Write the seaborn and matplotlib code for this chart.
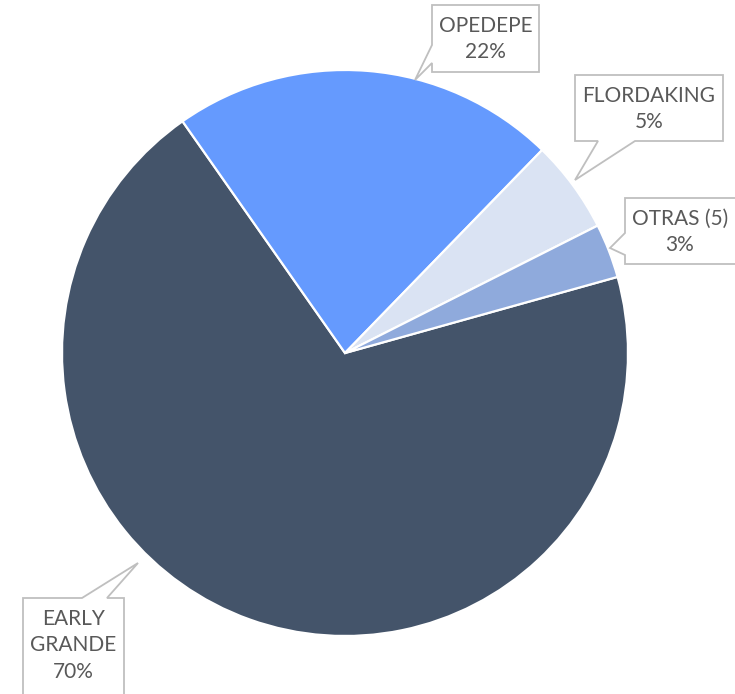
import matplotlib
matplotlib.use("Agg")
import matplotlib.pyplot as plt
import seaborn as sns
from matplotlib.patches import Polygon

sns.set_style("white")
plt.rcParams['font.family'] = ['Lato', 'DejaVu Sans']

# Data (shares)
varieties = ['EARLY GRANDE', 'OPEDEPE', 'FLORDAKING', 'OTRAS (5)']
shares = [69.6, 22.0, 5.3, 3.1]
colors = ['#44546A', '#659AFE', '#DAE3F3', '#8FAADC']
label_names = ['EARLY\nGRANDE', 'OPEDEPE', 'FLORDAKING', 'OTRAS (5)']

W, H = 735, 694
fig = plt.figure(figsize=(W / 100, H / 100), dpi=100)

# pie placed so centre ~ (345, 353) px, radius ~283 px
cx, cy, r = 345, 353, 283
ax = fig.add_axes([(cx - r) / W, (H - cy - r) / H, 2 * r / W, 2 * r / H])
ax.pie(shares, colors=colors, startangle=15.6, counterclock=False,
       wedgeprops=dict(edgecolor='white', linewidth=1.6))
ax.set_xlim(-1, 1)
ax.set_ylim(-1, 1)
ax.set_aspect('equal')
ax.axis('off')


def px(x, y):
    return (x / W, 1 - y / H)


def callout(box, side, a, b, tip):
    x0, y0, x1, y1 = box
    pts = [(x0, y0)]
    if side == 'top':
        pts += [(a, y0), tip, (b, y0)]
    pts += [(x1, y0), (x1, y1)]
    if side == 'bottom':
        pts += [(b, y1), tip, (a, y1)]
    pts += [(x0, y1)]
    if side == 'left':
        pts += [(x0, b), tip, (x0, a)]
    poly = Polygon([px(*p) for p in pts], closed=True, transform=fig.transFigure,
                   facecolor='white', edgecolor='#BFBFBF', linewidth=1.3,
                   clip_on=False, zorder=5)
    fig.patches.append(poly)


# callout layout: (box, side, base a, base b, tip) in pixels
callouts = {
    'OPEDEPE': ((432, 5, 539, 72), 'left', 45, 63, (415, 80)),
    'FLORDAKING': ((575, 75, 723, 141), 'bottom', 598, 635, (575, 180)),
    'OTRAS (5)': ((625, 198, 745, 264), 'left', 233, 255, (610, 248)),
    'EARLY GRANDE': ((23, 598, 124, 710), 'top', 82, 107, (138, 563)),
}

for name, lab, val in zip(varieties, label_names, shares):
    box, side, a, b, tip = callouts[name]
    callout(box, side, a, b, tip)
    x0, y0, x1, y1 = box
    if name == 'OTRAS (5)':
        tx = (x0 + 735) / 2
    else:
        tx = (x0 + x1) / 2
    ty = y0 + 11
    fig.text(*px(tx, ty), f"{lab}\n{round(val)}%", ha='center', va='top',
             fontsize=15, color='#595959', linespacing=1.4, zorder=6)

fig.savefig('out.png', dpi=100)
